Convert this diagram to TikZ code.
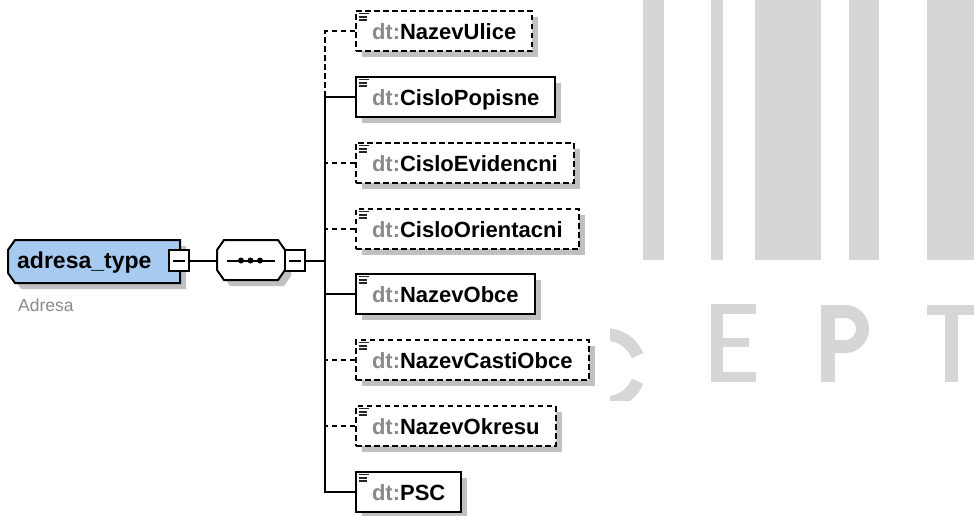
\documentclass[tikz,border=0pt]{standalone}
\usepackage{fontspec}
\setmainfont{Liberation Sans}
\usetikzlibrary{shadows}
\definecolor{wm}{RGB}{214,214,214}
\definecolor{shd}{RGB}{192,192,192}
\definecolor{rootblue}{RGB}{166,202,240}
\definecolor{pref}{RGB}{138,138,138}
\tikzset{
  elem/.style={draw=black, line width=2pt, fill=white, rectangle, minimum height=40pt,
    inner xsep=16pt, inner ysep=0pt, text height=16pt, text depth=0pt, anchor=west,
    font=\fontsize{22}{26}\selectfont\bfseries,
    drop shadow={shadow xshift=6pt, shadow yshift=-6pt, opacity=1, fill=shd}},
  optelem/.style={elem, dash pattern=on 5.5pt off 3.5pt},
  conn/.style={line width=2pt},
  optconn/.style={conn, dash pattern=on 5.5pt off 3.5pt},
  minusbox/.style={draw, line width=2pt, fill=white, minimum width=20pt, minimum height=21pt,
    inner sep=0pt, outer sep=0pt,
    path picture={\draw[line width=2pt] ([xshift=4pt]path picture bounding box.west) -- ([xshift=-4pt]path picture bounding box.east);}},
  icon/.style={line width=1.6pt, black!85},
}
\begin{document}
\begin{tikzpicture}[x=1pt,y=-1pt]
\useasboundingbox (0,0) rectangle (974,515);
\fill[white] (0,0) rectangle (974,515);
% watermark
\fill[wm] (643.3,0) rectangle (664.3,260);
\fill[wm] (711,0) rectangle (723.3,260);
\fill[wm] (755.3,0) rectangle (821,260);
\fill[wm] (849.3,0) rectangle (879.3,260);
\fill[wm] (927.3,0) rectangle (974,260);
\begin{scope}
  \clip (610,290) rectangle (660,400);
  \draw[wm, line width=12.5pt] (606,343) ++(22:34) arc[start angle=22, end angle=338, radius=34pt];
\end{scope}
\fill[wm] (711,304) rectangle (723.3,381.7);
\fill[wm] (711,304) rectangle (755.7,313.5);
\fill[wm] (711,338) rectangle (749,347);
\fill[wm] (711,372) rectangle (755.7,381.7);
\fill[wm] (821,305) rectangle (834.5,381.7);
\draw[wm, line width=13pt] (828,311.5) -- (845,311.5) arc[start angle=90, end angle=-90, radius=17.5pt] -- (828,346.5);
\fill[wm] (927.3,305) rectangle (974,315);
\fill[wm] (945,305) rectangle (958,381.7);

% root element
\fill[shd, shift={(6,6)}] (8,250) -- (15,240) -- (180,240) -- (180,283) -- (15,283) -- (8,273) -- cycle;
\draw[line width=2pt, fill=rootblue] (8,250) -- (15,240) -- (180,240) -- (180,283) -- (15,283) -- (8,273) -- cycle;
\node[font=\fontsize{23}{27}\selectfont\bfseries, anchor=base west, inner sep=0pt] (root) at (17,268) {adresa\_type};
\node[font=\fontsize{17.5}{20}\selectfont, text=pref, anchor=base west, inner sep=0pt] (rootlab) at (18,311) {Adresa};
\node[minusbox] (rm) at (179,260.5) {};

% sequence compositor
\fill[shd, shift={(6,6)}] (217,250) -- (224,240) -- (278,240) -- (285,250) -- (285,270) -- (278,280) -- (224,280) -- (217,270) -- cycle;
\draw[line width=2pt, fill=white] (217,250) -- (224,240) -- (278,240) -- (285,250) -- (285,270) -- (278,280) -- (224,280) -- (217,270) -- cycle;
\coordinate (seqW) at (217,260.5);
\draw[line width=2pt] (227,260.5) -- (275,260.5);
\fill (241,260.5) circle[radius=3pt];
\fill (250.5,260.5) circle[radius=3pt];
\fill (260,260.5) circle[radius=3pt];
\node[minusbox] (sm) at (295,260.5) {};

% children
\node[optelem] (n1) at (355,31)  {{\color{pref}dt:}NazevUlice};
\node[elem]    (n2) at (355,97)  {{\color{pref}dt:}CisloPopisne};
\node[optelem] (n3) at (355,163) {{\color{pref}dt:}CisloEvidencni};
\node[optelem] (n4) at (355,229) {{\color{pref}dt:}CisloOrientacni};
\node[elem]    (n5) at (355,294) {{\color{pref}dt:}NazevObce};
\node[optelem] (n6) at (355,360) {{\color{pref}dt:}NazevCastiObce};
\node[optelem] (n7) at (355,426) {{\color{pref}dt:}NazevOkresu};
\node[elem]    (n8) at (355,492) {{\color{pref}dt:}PSC};

\foreach \n in {n1,n2,n3,n4,n5,n6,n7,n8}{
  \draw[icon] ([xshift=3.5pt,yshift=-3.5pt]\n.north west) -- ++(10,0);
  \draw[icon] ([xshift=3.5pt,yshift=-6.8pt]\n.north west) -- ++(8,0);
  \draw[icon] ([xshift=3.5pt,yshift=-10.1pt]\n.north west) -- ++(8,0);
}

% connectors
\coordinate (bj) at (325,97);
\coordinate (bbot) at (325,492);
\draw[conn] (rm.east) -- (seqW);
\draw[conn] (sm.east) -- (sm.east -| bj);
\draw[optconn] (n1.west) -| (bj);
\draw[conn] (n2.west) -- (bj) -- (bbot) -- (n8.west);
\draw[optconn] (n3.west) -- (n3.west -| bj);
\draw[optconn] (n4.west) -- (n4.west -| bj);
\draw[conn] (n5.west) -- (n5.west -| bj);
\draw[optconn] (n6.west) -- (n6.west -| bj);
\draw[optconn] (n7.west) -- (n7.west -| bj);
\end{tikzpicture}
\end{document}
